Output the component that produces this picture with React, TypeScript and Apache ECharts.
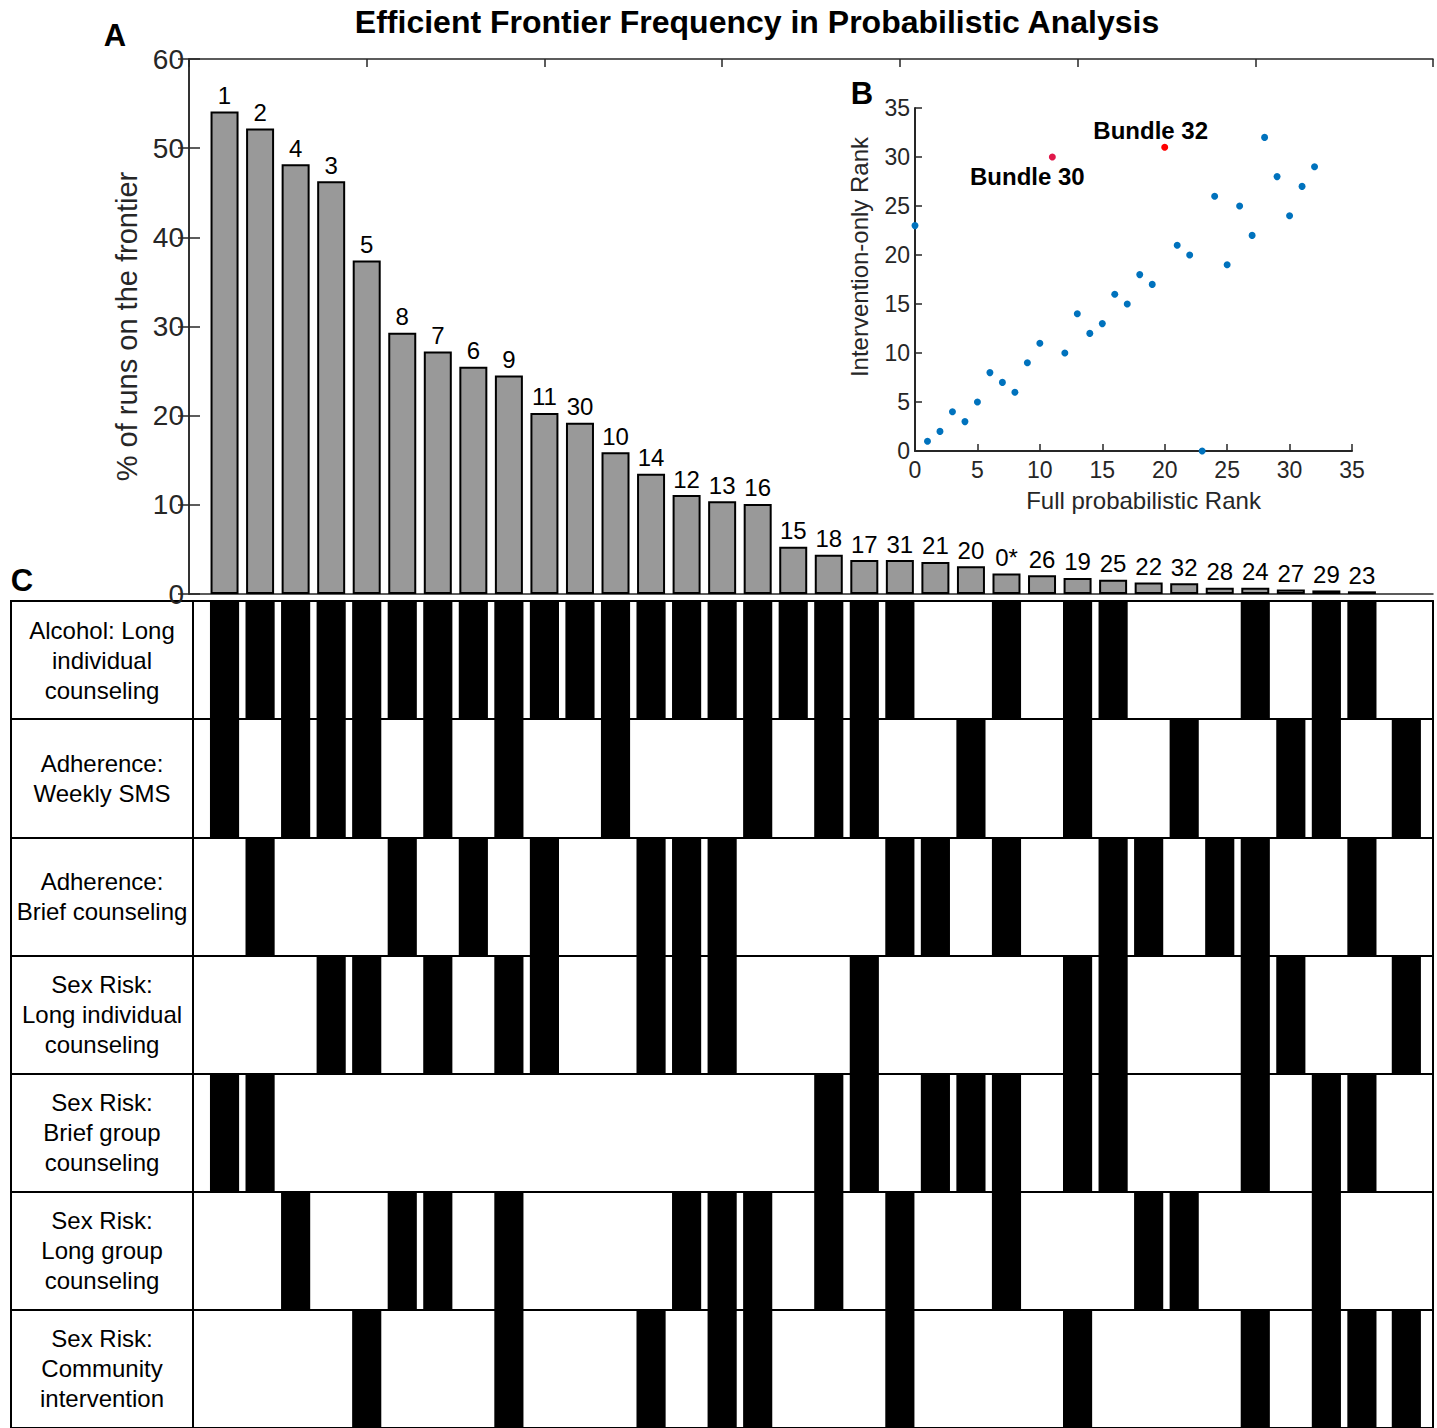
import React, { useEffect, useRef } from "react";
import * as echarts from "echarts";

// ---------- Panel A: efficient frontier frequency ----------
const bundleLabels = ["1","2","4","3","5","8","7","6","9","11","30","10","14","12","13","16","15","18","17","31","21","20","0*","26","19","25","22","32","28","24","27","29","23"];
const slotPositions = [1,2,3,4,5,6,7,8,9,10,11,12,13,14,15,16,17,18,19,20,21,22,23,24,25,26,27,28,29,30,31,32,33];
const frontierPct = [54.1,52.2,48.2,46.3,37.4,29.3,27.2,25.5,24.5,20.3,19.2,15.9,13.5,11.1,10.4,10.1,5.3,4.4,3.8,3.8,3.6,3.1,2.3,2.1,1.8,1.6,1.3,1.2,0.7,0.7,0.5,0.4,0.3];
const yTicksA = [0, 60, 10]; // min, max, interval

// ---------- Panel B: rank comparison ----------
const fullRank = [0,1,2,3,4,5,6,7,8,9,10,11,12,13,14,15,16,17,18,19,20,21,22,23,24,25,26,27,28,29,30,31,32];
const interventionRank = [23,1,2,4,3,5,8,7,6,9,11,30,10,14,12,13,16,15,18,17,31,21,20,0,26,19,25,22,32,28,24,27,29];
const highlightedRanks = [11, 20];
const highlightedNames = ["Bundle 30", "Bundle 32"];

// ---------- Panel C: bundle composition ----------
const componentNames = [
  "Alcohol: Long\nindividual\ncounseling",
  "Adherence:\nWeekly SMS",
  "Adherence:\nBrief counseling",
  "Sex Risk:\nLong individual\ncounseling",
  "Sex Risk:\nBrief group\ncounseling",
  "Sex Risk:\nLong group\ncounseling",
  "Sex Risk:\nCommunity\nintervention",
];
const alcoholLong = [1,2,3,4,5,6,7,8,9,10,11,12,13,14,15,16,17,18,19,20,23,25,26,30,32,33];
const adherenceSms = [1,3,4,5,7,9,12,16,18,19,22,25,28,31,32,34.25];
const adherenceBrief = [2,6,8,10,13,14,15,20,21,23,26,27,29,30,33];
const sexLongIndividual = [4,5,7,9,10,13,14,15,19,25,26,30,31,34.25];
const sexBriefGroup = [1,2,18,19,21,22,23,25,26,30,32,33];
const sexLongGroup = [3,6,7,9,14,15,16,18,20,23,27,28,32];
const sexCommunity = [5,9,13,15,16,20,25,30,32,33,34.25];
const componentRows = [alcoholLong, adherenceSms, adherenceBrief, sexLongIndividual, sexBriefGroup, sexLongGroup, sexCommunity];

const FONT = "'Liberation Sans', Arial, Helvetica, sans-serif";
const AX = "#262626";

export default function App() {
  const ref = useRef<HTMLDivElement>(null);
  useEffect(() => {
    if (!ref.current) return;
    const chart = echarts.init(ref.current, null, { renderer: "svg" });

    const barData = bundleLabels.map((n, i) => ({ name: n, value: [slotPositions[i], frontierPct[i]] }));

    const scatterData = fullRank.map((x, i) => {
      const h = highlightedRanks.indexOf(x);
      if (h < 0) return { value: [x, interventionRank[i]] };
      return {
        value: [x, interventionRank[i]],
        name: highlightedNames[h],
        itemStyle: { color: h === 0 ? "#e0174a" : "#ff0000", opacity: 1 },
        label: {
          show: true,
          position: "inside",
          offset: h === 0 ? [-25, 19] : [-14, -17],
          formatter: "{b}",
          fontSize: 24,
          fontWeight: "bold",
          color: "#000",
          fontFamily: FONT,
        },
      };
    });

    const cellData: number[][] = [];
    componentRows.forEach((row, r) => row.forEach((c) => cellData.push([c, r])));

    const option: any = {
      animation: false,
      backgroundColor: "#ffffff",
      textStyle: { fontFamily: FONT },
      grid: [
        { left: 189, top: 59, width: 1244, height: 535 },
        { left: 915, top: 108, width: 437, height: 343 },
        { left: 193, top: 601, width: 1240, height: 832 },
      ],
      xAxis: [
        {
          gridIndex: 0, type: "value", min: 0, max: 35, interval: 5, position: "bottom",
          axisLine: { show: true, onZero: false, lineStyle: { color: AX, width: 1.5 } },
          axisTick: { show: false }, axisLabel: { show: false }, splitLine: { show: false },
        },
        {
          gridIndex: 0, type: "value", min: 0, max: 35, interval: 5, position: "top",
          axisLine: { show: true, onZero: false, lineStyle: { color: AX, width: 1.5 } },
          axisTick: { show: true, inside: true, length: 8, lineStyle: { color: AX, width: 1.5 } },
          axisLabel: { show: false }, splitLine: { show: false },
        },
        {
          gridIndex: 1, type: "value", min: 0, max: 35, interval: 5,
          axisLine: { show: true, onZero: false, lineStyle: { color: AX, width: 2 } },
          axisTick: { show: true, inside: true, length: 7, lineStyle: { color: AX, width: 1.5 } },
          axisLabel: { fontSize: 23, color: AX, margin: 7, fontFamily: FONT },
          splitLine: { show: false },
          name: "Full probabilistic Rank", nameLocation: "middle", nameGap: 37,
          nameTextStyle: { fontSize: 24, color: AX, fontFamily: FONT, padding: [0, 0, 0, 20] },
        },
        {
          gridIndex: 2, type: "value", min: 0.1125, max: 35, position: "top",
          axisLine: { show: true, onZero: false, lineStyle: { color: "#000", width: 2 } },
          axisTick: { show: false }, axisLabel: { show: false }, splitLine: { show: false },
        },
      ],
      yAxis: [
        {
          gridIndex: 0, type: "value", min: yTicksA[0], max: yTicksA[1], interval: yTicksA[2],
          axisLine: { show: true, lineStyle: { color: AX, width: 1.5 } },
          axisTick: { show: true, inside: true, length: 11, lineStyle: { color: AX, width: 1.5 } },
          axisLabel: { fontSize: 28, color: AX, margin: 5, fontFamily: FONT },
          splitLine: { show: false },
          name: "% of runs on the frontier", nameLocation: "middle", nameGap: 42,
          nameTextStyle: { fontSize: 29, color: AX, fontFamily: FONT },
        },
        {
          gridIndex: 0, type: "value", min: yTicksA[0], max: yTicksA[1], interval: yTicksA[2], position: "right",
          axisLine: { show: true, lineStyle: { color: AX, width: 1.5 } },
          axisTick: { show: true, inside: true, length: 11, lineStyle: { color: AX, width: 1.5 } },
          axisLabel: { show: false }, splitLine: { show: false },
        },
        {
          gridIndex: 1, type: "value", min: 0, max: 35, interval: 5,
          axisLine: { show: true, onZero: false, lineStyle: { color: AX, width: 2 } },
          axisTick: { show: true, inside: true, length: 7, lineStyle: { color: AX, width: 1.5 } },
          axisLabel: { fontSize: 23, color: AX, margin: 5, fontFamily: FONT },
          splitLine: { show: false },
        },
        {
          gridIndex: 2, type: "category", data: componentNames, inverse: true,
          axisLine: { show: true, lineStyle: { color: "#000", width: 2 } },
          axisTick: { show: true, interval: 0, length: 182, lineStyle: { color: "#000", width: 2 } },
          axisLabel: { interval: 0, margin: 91, align: "center", fontSize: 24, lineHeight: 30, color: "#000", fontFamily: FONT },
          splitLine: { show: true, interval: 0, lineStyle: { color: "#000", width: 2 } },
        },
        {
          gridIndex: 2, type: "value", position: "right", min: 0, max: 1,
          axisLine: { show: true, lineStyle: { color: "#000", width: 2 } },
          axisTick: { show: false }, axisLabel: { show: false }, splitLine: { show: false },
        },
      ],
      graphic: [
        {
          type: "text", x: 757, y: 22,
          style: { text: "Efficient Frontier Frequency in Probabilistic Analysis", fontSize: 32, fontWeight: "bold", fontFamily: FONT, fill: "#000", align: "center", verticalAlign: "middle" },
        },
        { type: "text", x: 115, y: 35, style: { text: "A", fontSize: 31, fontWeight: "bold", fontFamily: FONT, fill: "#000", align: "center", verticalAlign: "middle" } },
        { type: "text", x: 862, y: 93, style: { text: "B", fontSize: 31, fontWeight: "bold", fontFamily: FONT, fill: "#000", align: "center", verticalAlign: "middle" } },
        { type: "text", x: 22, y: 580, style: { text: "C", fontSize: 31, fontWeight: "bold", fontFamily: FONT, fill: "#000", align: "center", verticalAlign: "middle" } },
        {
          type: "text", x: 859, y: 257, rotation: Math.PI / 2,
          style: { text: "Intervention-only Rank", fontSize: 24, fontFamily: FONT, fill: AX, align: "center", verticalAlign: "middle" },
        },
        { type: "line", shape: { x1: 11, y1: 600, x2: 11, y2: 1428 }, style: { stroke: "#000", lineWidth: 2 } },
      ],
      series: [
        {
          type: "bar", xAxisIndex: 0, yAxisIndex: 0, barWidth: 28, data: barData,
          itemStyle: { color: "#999999", borderColor: "#000", borderWidth: 2 },
          label: { show: true, position: "top", distance: 4, formatter: "{b}", fontSize: 24, color: "#000", fontFamily: FONT },
        },
        {
          type: "scatter", xAxisIndex: 2, yAxisIndex: 2, symbolSize: 7, data: scatterData,
          itemStyle: { color: "#0072BD", opacity: 1 },
        },
        {
          type: "custom", xAxisIndex: 3, yAxisIndex: 3, data: cellData,
          renderItem: (params: any, api: any) => {
            const x = api.value(0);
            const r = api.value(1);
            const p0 = api.coord([x - 0.41, r]);
            const p1 = api.coord([x + 0.41, r]);
            const h = api.size([0, 1])[1];
            return {
              type: "rect",
              shape: { x: p0[0], y: p0[1] - h / 2, width: p1[0] - p0[0], height: h },
              style: { fill: "#000" },
            };
          },
        },
      ],
    };
    chart.setOption(option);
    return () => chart.dispose();
  }, []);
  return <div ref={ref} style={{ position: "absolute", left: 0, top: 0, width: 1437, height: 1428 }} />;
}
